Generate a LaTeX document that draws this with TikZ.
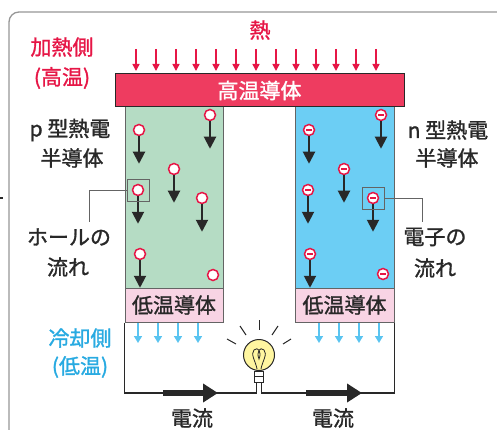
\documentclass[tikz,border=0pt]{standalone}
\usepackage{fontspec}
\newfontfamily\jp[FakeBold=1.3]{Noto Sans CJK JP}
\usetikzlibrary{arrows.meta}
\definecolor{hotred}{RGB}{230,22,70}
\definecolor{barred}{RGB}{238,60,96}
\definecolor{pgreen}{RGB}{181,220,196}
\definecolor{nblue}{RGB}{108,206,244}
\definecolor{coldpink}{RGB}{248,212,228}
\definecolor{coldtext}{RGB}{40,170,225}
\definecolor{coldarrow}{RGB}{90,196,240}
\definecolor{ink}{RGB}{40,40,40}
\definecolor{edge}{RGB}{100,100,100}
\definecolor{frame}{RGB}{150,150,150}
\definecolor{bulbyellow}{RGB}{255,246,160}
\begin{document}
\begin{tikzpicture}[x=1pt,y=-1pt,
  block/.style={draw=edge, line width=1pt, inner sep=0pt},
  hole/.style={circle, draw=hotred, fill=white, line width=1.5pt, minimum size=11pt, inner sep=0pt},
  electron/.style={hole, path picture={\draw[hotred, line width=1.3pt]
      ([xshift=-3pt]path picture bounding box.center) -- ([xshift=3pt]path picture bounding box.center);}},
  drift/.style={draw=ink, line width=2pt, -{Triangle[length=12pt,width=12pt]}},
  heat/.style={draw=hotred, line width=1.5pt, -{Triangle[length=7pt,width=7pt]}},
  cool/.style={draw=coldarrow, line width=1.5pt, -{Triangle[length=7pt,width=8pt]}},
  wire/.style={draw=ink, line width=1.5pt},
  current/.style={draw=ink, line width=6pt, -{Triangle[length=15pt,width=18pt]}},
  leader/.style={draw=edge, line width=0.9pt},
  jpfont/.style={font=\jp\fontsize{21}{25}\selectfont},
  lab/.style={jpfont, text=ink, inner sep=0pt},
  hotlab/.style={lab, text=hotred},
  coldlab/.style={lab, text=coldtext}]
\useasboundingbox (0,0) rectangle (497,430);
\clip (0,0) rectangle (497,430);

% outer panel
\draw[draw=frame, line width=1.3pt, rounded corners=10pt] (9,445) |- (510,12);
\draw[ink, line width=1.5pt] (0,198) -- (3,198);

% heat input
\node[hotlab] (heatlab) at (260,30) {熱};
\foreach \i in {0,...,12} \draw[heat] (136+20*\i,49) -- (136+20*\i,71);
\node[hotlab] (hotside) at (62,47) {加熱側};
\node[hotlab] (hottemp) at (62,78) {(高温)};

% semiconductor legs
\node[block, fill=pgreen, minimum width=98pt, minimum height=181pt] (pleg) at (174,197.5) {};
\node[block, fill=nblue, minimum width=99pt, minimum height=181pt] (nleg) at (344.5,197.5) {};
\node[block, fill=coldpink, minimum width=98pt, minimum height=34pt, jpfont, text=ink] (coldp) at (174,305) {低温導体};
\node[block, fill=coldpink, minimum width=99pt, minimum height=34pt, jpfont, text=ink] (coldn) at (344.5,305) {低温導体};

% hot conductor
\node[block, draw=ink, fill=barred, minimum width=289pt, minimum height=33pt, text=white, jpfont] (hot) at (259.5,90.5) {高温導体};

% holes drifting in the p leg
\foreach \n/\x/\y in {h1/139/130, h2/210/115, h3/174/169, h4/138/190, h5/202/198, h6/140/254} {
  \node[hole] (\n) at (\x,\y) {};
  \draw[drift] (\n.south) -- ++(0,27.5);
}
\node[hole] (h7) at (213,275) {};

% electrons drifting in the n leg
\foreach \n/\x/\y in {e1/309/130, e2/381/115, e3/344/169, e4/308/190, e5/373/198, e6/310/254} {
  \node[electron] (\n) at (\x,\y) {};
  \draw[drift] (\n.south) -- ++(0,27.5);
}
\node[electron] (e7) at (383,274) {};

% callouts
\node[draw=edge, line width=0.9pt, minimum size=22pt, inner sep=0pt] (hbox) at (h4) {};
\node[draw=edge, line width=0.9pt, minimum size=22pt, inner sep=0pt] (ebox) at (e5) {};
\coordinate (hturn) at (89,190);
\coordinate (eturn) at (422,198);
\draw[leader] (hbox.west) -- (hturn) -- ++(0,32);
\draw[leader] (ebox.east) -- (eturn) -- ++(0,24);

\node[lab] (ptype) at (70,130) {p 型熱電};
\node[lab] (psemi) at (72,158) {半導体};
\node[lab] (ntype) at (448,130) {n 型熱電};
\node[lab] (nsemi) at (447,158) {半導体};
\node[lab] (holeflow) at (69,237) {ホールの};
\node[lab] (holeflow2) at (68,267) {流れ};
\node[lab] (elflow) at (435,237) {電子の};
\node[lab] (elflow2) at (435,268) {流れ};

% heat output
\foreach \x in {138,158,178,198,319,339,359,379} \draw[cool] (\x,323) -- (\x,343);
\node[coldlab] (coldside) at (80,338) {冷却側};
\node[coldlab] (coldtemp) at (80,367) {(低温)};

% lamp
\node[circle, draw=ink, line width=1pt, fill=bulbyellow, minimum size=31pt, inner sep=0pt] (bulb) at (259,355) {};
\node[draw=ink, line width=1pt, fill=white, minimum width=9pt, minimum height=11pt, inner sep=0pt, anchor=north] (base) at (259,370.5) {};
\draw[ink, line width=0.7pt] (base.west) -- (base.east);
\draw[ink, line width=0.8pt] (257,369) .. controls (256,362) and (250,354) .. (254,350)
  .. controls (258,346) and (262,352) .. (259,359)
  .. controls (256,352) and (260,346) .. (264,350)
  .. controls (268,354) and (262,362) .. (261,369);
\foreach \a/\b/\c/\d in {259/320/259/330, 240/326/246/335, 278/326/272/335, 227/339/236/344, 291/339/283/344}
  \draw[ink, line width=1pt] (\a,\b) -- (\c,\d);

% circuit
\coordinate (wl) at (256.5,393);
\coordinate (wr) at (261.5,393);
\draw[wire] (coldp.south west) |- (wl) -- (wl |- base.south);
\draw[wire] (coldn.south east) |- (wr) -- (wr |- base.south);
\draw[current] (163,393) -- (218,393);
\draw[current] (306,393) -- (362,393);
\node[lab] (cur1) at (192,418) {電流};
\node[lab] (cur2) at (333,418) {電流};
\end{tikzpicture}
\end{document}
